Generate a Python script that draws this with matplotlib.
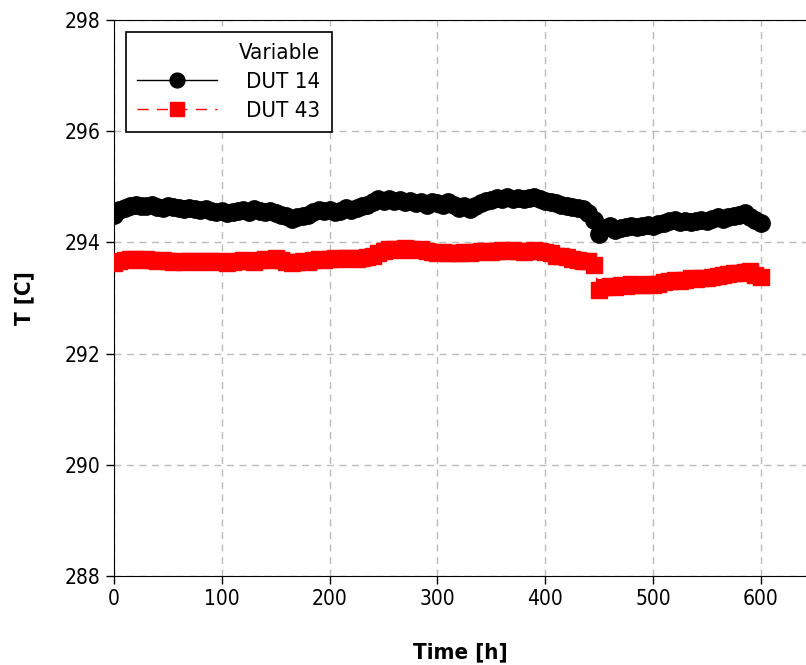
import numpy as np
import matplotlib.pyplot as plt

# time in hours, one reading every 5 h
time_h = np.arange(0, 601, 5)

# DUT 14 temperature [C]
dut14 = [294.50, 294.58, 294.62, 294.65, 294.68, 294.66, 294.65, 294.67, 294.64, 294.62,
         294.66, 294.64, 294.62, 294.60, 294.62, 294.60, 294.58, 294.60, 294.57, 294.55,
         294.56, 294.52, 294.55, 294.57, 294.58, 294.55, 294.60, 294.57, 294.55, 294.56,
         294.52, 294.50, 294.47, 294.42, 294.45, 294.47, 294.50, 294.55, 294.58, 294.56,
         294.58, 294.55, 294.57, 294.62, 294.58, 294.62, 294.65, 294.68, 294.72, 294.78,
         294.75, 294.78, 294.74, 294.76, 294.72, 294.75, 294.70, 294.72, 294.68, 294.72,
         294.70, 294.68, 294.72, 294.68, 294.62, 294.65, 294.60, 294.65, 294.70, 294.75,
         294.77, 294.80, 294.78, 294.82, 294.78, 294.80, 294.78, 294.80, 294.82, 294.78,
         294.75, 294.72, 294.70, 294.68, 294.66, 294.63, 294.62, 294.60, 294.52, 294.40,
         294.15, 294.25, 294.30, 294.22, 294.25, 294.28, 294.30, 294.28, 294.30, 294.32,
         294.30, 294.33, 294.35, 294.38, 294.40, 294.36, 294.38, 294.36, 294.38, 294.40,
         294.38, 294.42, 294.45, 294.42, 294.45, 294.48, 294.50, 294.52, 294.45, 294.40,
         294.35]

# DUT 43 temperature [C]
dut43 = [293.62, 293.66, 293.68, 293.70, 293.70, 293.68, 293.70, 293.68, 293.66, 293.68,
         293.67, 293.65, 293.66, 293.65, 293.67, 293.66, 293.65, 293.67, 293.66, 293.65,
         293.66, 293.63, 293.65, 293.67, 293.68, 293.66, 293.65, 293.68, 293.70, 293.68,
         293.72, 293.68, 293.65, 293.63, 293.64, 293.66, 293.65, 293.68, 293.70, 293.69,
         293.70, 293.72, 293.70, 293.71, 293.72, 293.70, 293.72, 293.74, 293.75, 293.80,
         293.85, 293.88, 293.88, 293.86, 293.90, 293.88, 293.86, 293.88, 293.85, 293.82,
         293.80, 293.82, 293.80, 293.81, 293.80, 293.82, 293.80, 293.82, 293.84, 293.85,
         293.83, 293.85, 293.86, 293.84, 293.86, 293.85, 293.83, 293.85, 293.86, 293.84,
         293.83, 293.80, 293.76, 293.75, 293.74, 293.70, 293.68, 293.67, 293.66, 293.60,
         293.15, 293.20, 293.22, 293.20, 293.23, 293.22, 293.25, 293.23, 293.24, 293.25,
         293.23, 293.25, 293.28, 293.30, 293.32, 293.30, 293.33, 293.35, 293.34, 293.36,
         293.35, 293.38, 293.40, 293.42, 293.43, 293.45, 293.44, 293.47, 293.48, 293.42,
         293.38]

plt.rcParams['font.family'] = 'DejaVu Sans'
plt.rcParams['font.stretch'] = 'condensed'

fig = plt.figure(figsize=(8.06, 6.65), dpi=100)
ax = fig.add_axes([0.1415, 0.134, 0.8585, 0.836])

ax.plot(time_h, dut14, color='black', marker='o', markersize=12.5, lw=1, label='DUT 14', zorder=3)
ax.plot(time_h, dut43, color='red', marker='s', markersize=11.5, lw=1, ls=(0, (8, 6)),
        label='DUT 43', zorder=3)

ax.set_xlim(0, 642)
ax.set_ylim(288, 298)
ax.set_xticks([0, 100, 200, 300, 400, 500, 600])
ax.set_yticks([288, 290, 292, 294, 296, 298])
ax.tick_params(labelsize=15, direction='out', length=6, width=1)
ax.grid(True, color='#bbbbbb', ls=(0, (5, 4)), lw=1)
ax.set_axisbelow(True)
ax.spines['right'].set_visible(False)

ax.set_xlabel('Time [h]', fontsize=16, fontweight='bold', labelpad=24)
ax.set_ylabel('T [C]', fontsize=16, fontweight='bold', labelpad=22)

leg = ax.legend(title='Variable', loc='upper left', fontsize=16, title_fontsize=16,
                frameon=True, fancybox=False, edgecolor='black', framealpha=1,
                handlelength=3.6, borderaxespad=0.55, alignment='right',
                labelspacing=0.4, handletextpad=1.3, markerscale=0.85, borderpad=0.5)
leg.get_frame().set_linewidth(1.2)

fig.savefig('out.png', dpi=100)
